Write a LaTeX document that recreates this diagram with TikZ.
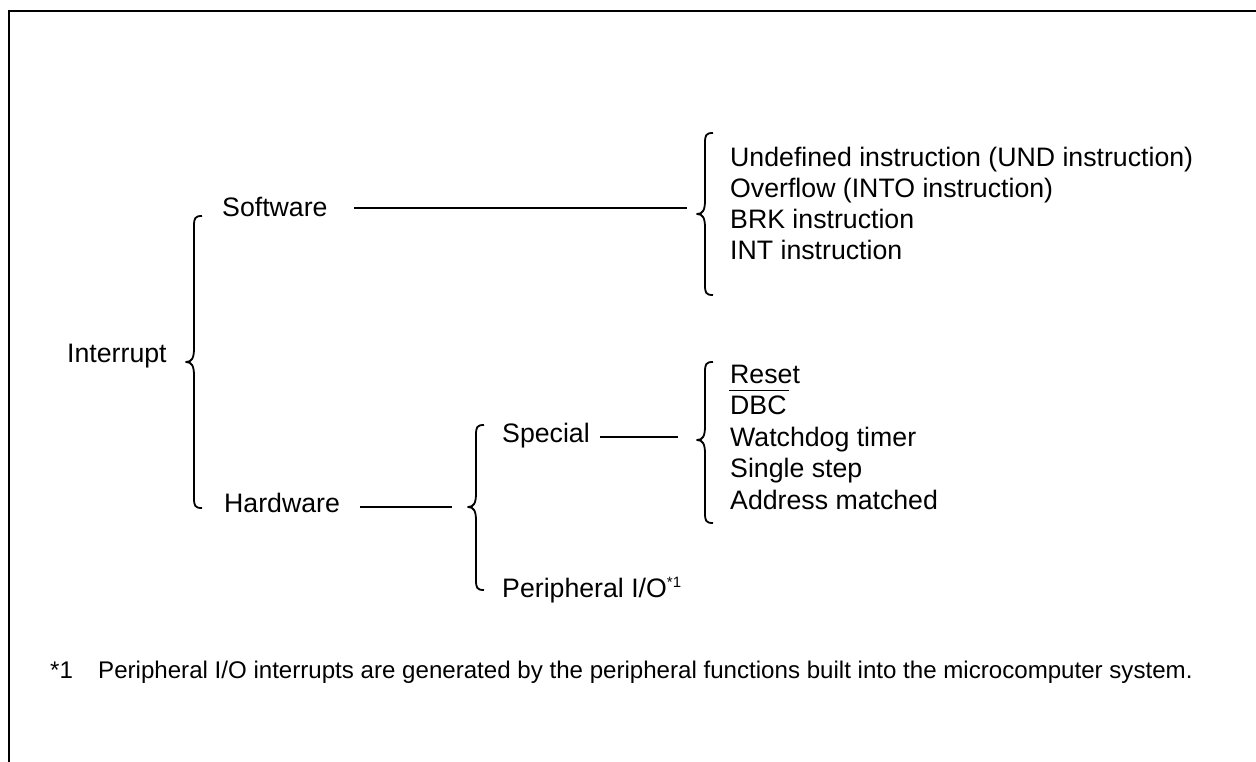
\documentclass[tikz,border=0pt]{standalone}
\usepackage{fontspec}
\setmainfont{Liberation Sans}
\newcommand\drawcurly[5]{% name, x of vertical, top, bottom, middle
  \draw[bracestyle] ({#2+8},#3) .. controls ({#2+1},#3) and (#2,{#3+2}) .. (#2,{#3+10})
    -- (#2,{#5-14}) .. controls (#2,{#5-4}) and ({#2-2},#5) .. ({#2-8},#5)
    .. controls ({#2-2},#5) and (#2,{#5+4}) .. (#2,{#5+14})
    -- (#2,{#4-10}) .. controls (#2,{#4-2}) and ({#2+1},#4) .. ({#2+8},#4);
  \coordinate (#1) at ({#2-8},#5);}
\begin{document}
\begin{tikzpicture}[x=1pt,y=-1pt,
  lbl/.style={font=\fontsize{26.7}{32}\selectfont, inner sep=0pt, anchor=base west},
  note/.style={font=\fontsize{24.1}{28}\selectfont, inner sep=0pt, anchor=base west},
  link/.style={line width=2pt},
  bracestyle/.style={line width=1.8pt, line join=round},
  frame/.style={line width=2.2pt}]
\useasboundingbox (0,0) rectangle (1256,762);
\draw[frame] (1256,11) -- (9,11) -- (9,762);

% labels
\node[lbl] (intr) at (67,362) {Interrupt};
\node[lbl] (sw) at (222,217) {Software};
\node[lbl] (hw) at (224,512) {Hardware};
\node[lbl] (sp) at (502,442) {Special};
\node[lbl] (pio) at (502,597) {Peripheral I/O\raisebox{10pt}{\fontsize{15}{16}\selectfont *1}};

\node[lbl] (s1) at (730,167) {Undefined instruction (UND instruction)};
\node[lbl] (s2) at (730,198) {Overflow (INTO instruction)};
\node[lbl] (s3) at (730,229) {BRK instruction};
\node[lbl] (s4) at (730,260) {INT instruction};

\node[lbl] (h1) at (730,383) {Reset};
\node[lbl] (h2) at (730,414.5) {DBC};
\node[lbl] (h3) at (730,446) {Watchdog timer};
\node[lbl] (h4) at (730,477.5) {Single step};
\node[lbl] (h5) at (730,509) {Address matched};
\draw[line width=1.4pt] ([shift={(-1,-24)}]h2.base west) -- ([shift={(2,-24)}]h2.base east);

% braces
\drawcurly{b1}{194}{216}{508}{362}
\drawcurly{b2}{705}{133}{295}{214}
\drawcurly{b3}{476}{425}{590}{507}
\drawcurly{b4}{705}{362}{523}{440}

% connectors
\coordinate (swa) at ([shift={(26,-9)}]sw.base east);
\draw[link, shorten >=10pt] (swa) -- (swa -| b2);
\coordinate (hwa) at ([shift={(20,-5)}]hw.base east);
\draw[link, shorten >=16pt] (hwa) -- (hwa -| b3);
\coordinate (spa) at ([shift={(10,-5)}]sp.base east);
\draw[link, shorten >=19pt] (spa) -- (spa -| b4);

% footnote
\node[note] (n1) at (50,678) {*1};
\node[note] (n1t) at (98,678) {Peripheral I/O interrupts are generated by the peripheral functions built into the microcomputer system.};
\end{tikzpicture}
\end{document}
